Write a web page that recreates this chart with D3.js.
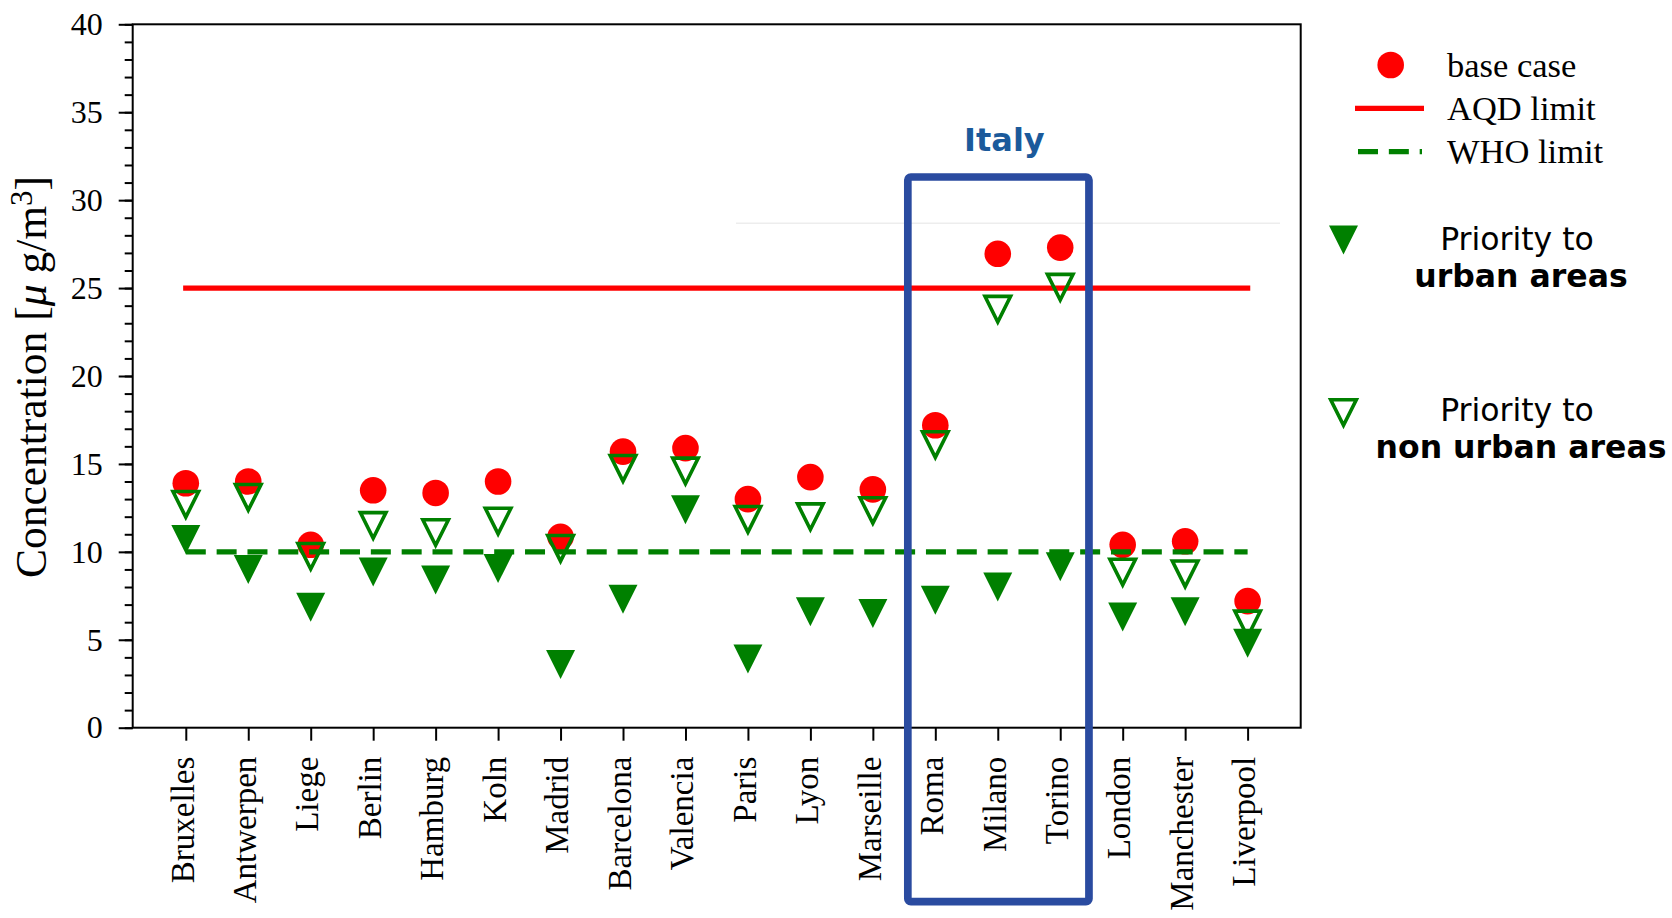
<!DOCTYPE html>
<html>
<head>
<meta charset="utf-8">
<script src="https://cdn.jsdelivr.net/npm/d3@7"></script>
<style>
  body { margin: 0; background: #fff; }
  svg { display: block; }
</style>
</head>
<body>
<svg id="chart" width="1672" height="918"></svg>
<script>
"use strict";
// city order along the x axis
const cities = ["Bruxelles", "Antwerpen", "Liege", "Berlin", "Hamburg", "Koln", "Madrid",
    "Barcelona", "Valencia", "Paris", "Lyon", "Marseille", "Roma", "Milano", "Torino",
    "London", "Manchester", "Liverpool"];
const baseCase = [13.9, 14.0, 10.4, 13.5, 13.35, 14.0, 10.85, 15.7, 15.9, 13.0, 14.25, 13.55,
    17.2, 26.95, 27.3, 10.4, 10.6, 7.2];
const urbanPriority = [10.7, 9.0, 6.85, 8.85, 8.4, 9.05, 3.6, 7.3, 12.4, 3.9, 6.6, 6.5,
    7.25, 8.0, 9.15, 6.3, 6.6, 4.8];
const nonUrbanPriority = [12.7, 13.1, 9.75, 11.5, 11.1, 11.75, 10.2, 14.75, 14.6, 11.85, 12.0, 12.35,
    16.1, 23.8, 25.05, 8.85, 8.75, 5.9];
const aqdLimit = 25;
const whoLimit = 10;
const yMajorTicks = [0, 5, 10, 15, 20, 25, 30, 35, 40];
const yMinorTicks = d3.range(0, 41, 1);
const italyCities = ["Roma", "Milano", "Torino"];

const svg = d3.select("#chart");
const plot = { left: 132.7, right: 1300.7, top: 24.3, bottom: 727.7 };
const serif = "'Liberation Serif', 'Times New Roman', serif";
const sans = "'DejaVu Sans', Verdana, sans-serif";
const GREEN = "#008000", RED = "#ff0000";

const x = d3.scalePoint().domain(cities).range([plot.left, plot.right]).padding(0.85);
const y = d3.scaleLinear().domain([0, 40]).range([plot.bottom, plot.top]);

// faint artefact line in the original picture
svg.append("line")
    .attr("x1", 736).attr("x2", 1280)
    .attr("y1", 223.3).attr("y2", 223.3)
    .style("stroke", "#ededed").style("stroke-width", 1.5);

// axes
const yMinor = svg.append("g")
    .attr("transform", `translate(${plot.left},0)`)
    .call(d3.axisLeft(y).tickValues(yMinorTicks).tickSize(8).tickFormat(""));
yMinor.select(".domain").remove();
yMinor.selectAll("line").style("stroke", "#000").style("stroke-width", 2);

const yAxis = svg.append("g")
    .attr("transform", `translate(${plot.left},0)`)
    .call(d3.axisLeft(y).tickValues(yMajorTicks).tickSize(14).tickPadding(16));
yAxis.select(".domain").remove();
yAxis.selectAll("line").style("stroke", "#000").style("stroke-width", 2);
yAxis.selectAll("text")
    .style("font-family", serif).style("font-size", "32px").style("fill", "#000");

const xAxis = svg.append("g")
    .attr("transform", `translate(0,${plot.bottom})`)
    .call(d3.axisBottom(x).tickSize(13));
xAxis.select(".domain").remove();
xAxis.selectAll("line").style("stroke", "#000").style("stroke-width", 2);
xAxis.selectAll("text")
    .attr("y", 0)
    .attr("x", -29)
    .attr("dy", "0.22em")
    .attr("transform", "rotate(-90)")
    .style("text-anchor", "end")
    .style("font-family", serif).style("font-size", "33px").style("fill", "#000");

// frame
svg.append("rect")
    .attr("x", plot.left).attr("y", plot.top)
    .attr("width", plot.right - plot.left).attr("height", plot.bottom - plot.top)
    .style("fill", "none").style("stroke", "#000").style("stroke-width", 2);

// y label
const yLabel = svg.append("text")
    .attr("transform", "translate(46,377) rotate(-90)")
    .style("text-anchor", "middle")
    .style("font-family", serif).style("font-size", "43.5px");
yLabel.append("tspan").text("Concentration [");
yLabel.append("tspan").style("font-style", "italic").text("μ");
yLabel.append("tspan").text(" g/m");
yLabel.append("tspan").attr("dy", "-0.45em").style("font-size", "31px").text("3");
yLabel.append("tspan").attr("dy", "0.32em").text("]");

const first = cities[0], last = cities[cities.length - 1];

// base case points
svg.append("g").selectAll("circle")
    .data(cities)
    .enter()
    .append("circle")
    .attr("cx", c => x(c))
    .attr("cy", (c, i) => y(baseCase[i]))
    .attr("r", 13.3)
    .style("fill", RED);

// AQD limit
svg.append("line")
    .attr("x1", x(first)).attr("x2", x(last))
    .attr("y1", y(aqdLimit)).attr("y2", y(aqdLimit))
    .style("stroke", RED).style("stroke-width", 5.3).style("stroke-linecap", "square");

// WHO limit
svg.append("line")
    .attr("x1", x(first)).attr("x2", x(last))
    .attr("y1", y(whoLimit)).attr("y2", y(whoLimit))
    .style("stroke", GREEN).style("stroke-width", 5.3)
    .style("stroke-dasharray", "20,10.84");

const triangle = h => `M${-h},${-h}L${h},${-h}L0,${h}Z`;

// priority to non urban areas (open)
svg.append("g").selectAll("path")
    .data(cities)
    .enter()
    .append("path")
    .attr("transform", (c, i) => `translate(${x(c)},${y(nonUrbanPriority[i])})`)
    .attr("d", triangle(12.8))
    .style("fill", "none").style("stroke", GREEN).style("stroke-width", 3.6);

// priority to urban areas (filled)
svg.append("g").selectAll("path")
    .data(cities)
    .enter()
    .append("path")
    .attr("transform", (c, i) => `translate(${x(c)},${y(urbanPriority[i])})`)
    .attr("d", triangle(14.5))
    .style("fill", GREEN);

// Italy box
const step = x.step();
const boxLeft = x(italyCities[0]) - 0.44 * step;
const boxRight = x(italyCities[italyCities.length - 1]) + 0.46 * step;
svg.append("rect")
    .attr("x", boxLeft).attr("y", 177)
    .attr("width", boxRight - boxLeft).attr("height", 724.7)
    .attr("rx", 3)
    .style("fill", "none").style("stroke", "#2a4ba0").style("stroke-width", 7.7);
svg.append("text")
    .attr("x", (boxLeft + boxRight) / 2 + 6).attr("y", 151)
    .style("text-anchor", "middle")
    .style("font-family", sans).style("font-weight", "bold").style("font-size", "32px")
    .style("fill", "#1b5a9b")
    .text("Italy");

// legend
const legend = svg.append("g");
legend.append("circle").attr("cx", 1390.7).attr("cy", 65).attr("r", 13.3).style("fill", RED);
legend.append("line")
    .attr("x1", 1355).attr("x2", 1424).attr("y1", 108.3).attr("y2", 108.3)
    .style("stroke", RED).style("stroke-width", 5.3);
legend.append("line")
    .attr("x1", 1358).attr("x2", 1422).attr("y1", 151.7).attr("y2", 151.7)
    .style("stroke", GREEN).style("stroke-width", 5.3).style("stroke-dasharray", "20,10.84");
const legendLabels = ["base case", "AQD limit", "WHO limit"];
legend.selectAll("text.lab")
    .data(legendLabels)
    .enter()
    .append("text")
    .attr("class", "lab")
    .attr("x", 1447)
    .attr("y", (d, i) => 76.7 + i * 43)
    .style("font-family", serif).style("font-size", "34.5px")
    .text(d => d);

// priority legend (separate annotation block)
const prio = [
    { y: 240, filled: true, lines: ["Priority to", "urban areas"], base: 250 },
    { y: 412.5, filled: false, lines: ["Priority to", "non urban areas"], base: 420.7 }
];
prio.forEach(p => {
    const g = legend.append("g");
    g.append("path")
        .attr("transform", `translate(1343.5,${p.y})`)
        .attr("d", p.filled ? triangle(14.5) : triangle(12.8))
        .style("fill", p.filled ? GREEN : "none")
        .style("stroke", p.filled ? "none" : GREEN)
        .style("stroke-width", 3.6);
    g.append("text")
        .attr("x", 1517).attr("y", p.base)
        .style("text-anchor", "middle")
        .style("font-family", sans).style("font-size", "31.5px")
        .text(p.lines[0]);
    g.append("text")
        .attr("x", 1521).attr("y", p.base + 37.3)
        .style("text-anchor", "middle")
        .style("font-family", sans).style("font-weight", "bold").style("font-size", "31.5px")
        .text(p.lines[1]);
});
</script>
</body>
</html>
